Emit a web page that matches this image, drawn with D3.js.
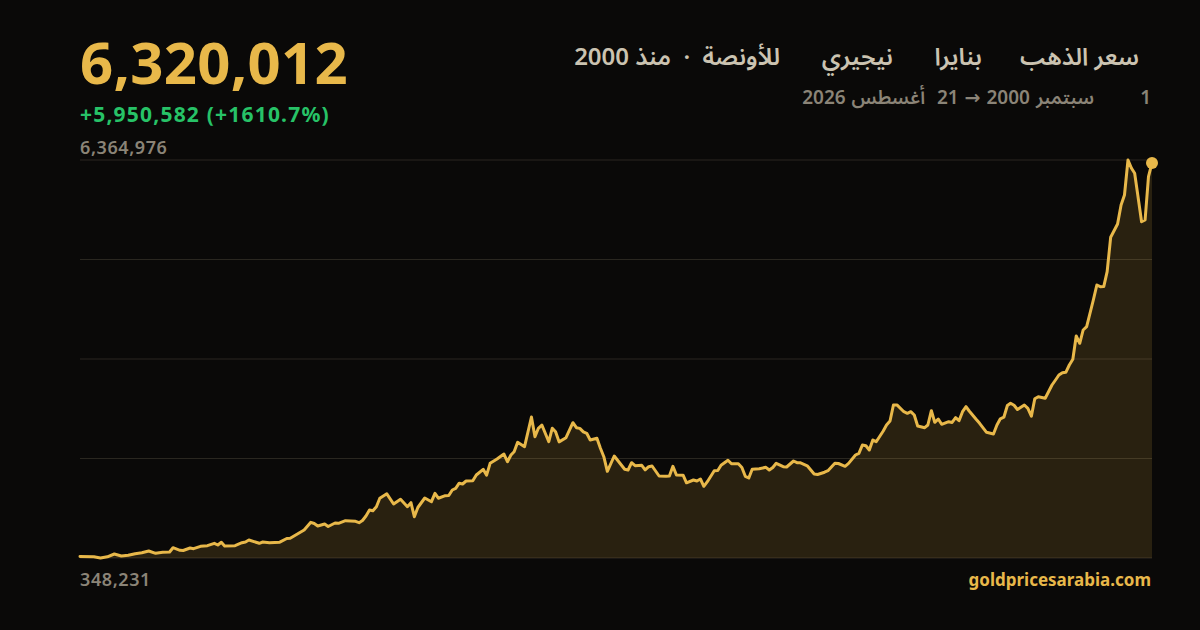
<!DOCTYPE html>
<html lang="ar">
<head>
<meta charset="utf-8">
<script src="https://cdn.jsdelivr.net/npm/d3@7"></script>
<style>
  html, body { margin: 0; padding: 0; background: #0a0908; }
  svg { display: block; }
  text { white-space: pre; }
  .latin { font-family: "Noto Sans", "Inter", sans-serif; }
  .ar { font-family: "Noto Sans Arabic", "Noto Sans", "DejaVu Sans", sans-serif; }
</style>
</head>
<body>
<svg id="chart" width="1200" height="630"></svg>
<script>
// ---- DATA ----
const titleParts = ["سعر الذهب", "بنايرا", "نيجيري", "للأونصة  ·  منذ 2000"];
const subtitleDay = "1";
const subtitleRange = "سبتمبر 2000 → 21  أغسطس 2026";
const sourceLabel = "goldpricesarabia.com";

const dates = [
  "2000-09","2001-01","2001-03","2001-05","2001-07","2001-09","2001-11","2002-01","2002-03","2002-05",
  "2002-07","2002-09","2002-11","2002-12","2003-02","2003-03","2003-05","2003-06","2003-08","2003-10",
  "2003-12","2004-01","2004-02","2004-03","2004-06","2004-08","2004-09","2004-10","2005-01","2005-02",
  "2005-04","2005-07","2005-09","2005-10","2006-02","2006-04","2006-05","2006-06","2006-08","2006-09",
  "2006-11","2006-12","2007-02","2007-05","2007-06","2007-07","2007-08","2007-09","2007-10","2007-11",
  "2007-12","2008-02","2008-04","2008-06","2008-08","2008-09","2008-10","2008-11","2009-01","2009-03",
  "2009-04","2009-05","2009-07","2009-08","2009-09","2009-10","2009-11","2009-12","2010-01","2010-03",
  "2010-04","2010-06","2010-07","2010-08","2010-10","2010-12","2011-01","2011-02","2011-03","2011-04",
  "2011-06","2011-08","2011-09","2011-10","2011-11","2012-01","2012-02","2012-03","2012-04","2012-06",
  "2012-08","2012-09","2012-10","2012-11","2012-12","2013-01","2013-03","2013-04","2013-05","2013-06",
  "2013-08","2013-11","2013-12","2014-01","2014-02","2014-04","2014-05","2014-06","2014-07","2014-09",
  "2014-11","2014-12","2015-01","2015-02","2015-04","2015-05","2015-07","2015-08","2015-09","2015-10",
  "2015-11","2016-01","2016-02","2016-03","2016-05","2016-06","2016-08","2016-09","2016-10","2016-11",
  "2016-12","2017-02","2017-04","2017-05","2017-06","2017-07","2017-09","2017-10","2017-12","2018-01",
  "2018-02","2018-04","2018-06","2018-07","2018-09","2018-10","2018-12","2019-01","2019-03","2019-04",
  "2019-06","2019-07","2019-08","2019-09","2019-10","2019-11","2019-12","2020-02","2020-03","2020-04",
  "2020-05","2020-06","2020-08","2020-09","2020-10","2020-11","2020-12","2021-02","2021-03","2021-04",
  "2021-05","2021-06","2021-07","2021-09","2021-10","2021-11","2021-12","2022-01","2022-02","2022-03",
  "2022-05","2022-06","2022-08","2022-10","2022-11","2022-12","2023-01","2023-02","2023-03","2023-04",
  "2023-05","2023-07","2023-08","2023-09","2023-10","2023-11","2024-01","2024-03","2024-04","2024-05",
  "2024-06","2024-07","2024-08","2024-09","2024-10","2024-11","2024-12","2025-01","2025-03","2025-04",
  "2025-05","2025-06","2025-07","2025-08","2025-10","2025-11","2025-12","2026-01","2026-02","2026-03",
  "2026-05","2026-06","2026-07","2026-08"
];

const prices = [
  369430,367900,348231,366800,408700,378500,389000,413200,428300,454000,
  419300,434400,438900,503900,464600,462000,499400,488800,525100,534100,
  570400,544700,585500,529600,534100,579500,590100,620300,570400,590100,
  579500,587100,643000,646000,771500,887900,869800,832000,862200,824400,
  877300,872800,912100,903000,881800,915100,983100,1073800,1061800,1123700,
  1250700,1318700,1164500,1237100,1123700,1184200,972600,1111600,1255300,1199300,
  1326300,1252000,1290000,1292000,1376200,1401900,1479000,1466900,1512200,1515000,
  1603000,1689100,1601000,1779800,1844800,1920400,1804000,1905300,1955200,2097300,
  2030800,2479800,2182000,2308900,2358800,2106400,2310000,2257500,2104000,2166800,
  2393600,2318000,2308000,2255000,2233300,2132100,2157800,2006600,1879600,1658900,
  1890200,1690000,1678500,1788900,1743500,1749600,1680000,1728400,1739000,1587800,
  1584800,1588000,1734500,1603000,1599900,1485000,1527400,1512200,1542500,1432100,
  1501700,1666400,1671000,1751100,1826700,1773800,1772000,1716300,1583300,1557600,
  1690600,1698200,1719400,1678500,1716300,1779800,1728400,1723900,1814600,1788900,
  1787000,1742000,1618100,1610500,1645300,1668000,1779800,1776800,1734500,1778000,
  1905300,1931000,2056500,2045900,1980900,2132100,2106400,2268100,2358800,2419300,
  2661200,2663000,2559900,2535700,2560000,2510000,2343700,2318000,2358800,2575000,
  2399600,2449500,2369400,2408700,2398000,2469200,2423800,2559900,2635500,2570500,
  2445000,2384500,2248500,2222800,2358800,2452600,2476700,2653600,2686900,2656700,
  2593100,2661200,2611300,2491900,2754900,2786600,2762500,2963500,3039100,3114700,
  3149500,3155500,3265900,3352100,3704300,3594000,3795000,3844900,4248500,4475300,
  4449600,4452000,4676300,5196400,5397400,5684700,5835900,6364976,6239500,6163900,
  5432200,5457900,6112500,6320012
];

// ---- CHART ----
const parse = d3.timeParse("%Y-%m");
const series = dates.map((d, i) => ({ date: parse(d), value: prices[i] }));

const W = 1200, H = 630;
const plot = { left: 80, right: 1152, top: 160, bottom: 558 };
const gold = "#e8b84a";
const muted = "#8b8477";
const fmt = d3.format(",");

const svg = d3.select("#chart");
svg.append("rect").attr("width", W).attr("height", H).attr("fill", "#0a0908");

const x = d3.scaleTime()
  .domain(d3.extent(series, d => d.date))
  .range([plot.left, plot.right]);

const yMin = d3.min(prices), yMax = d3.max(prices);
const y = d3.scaleLinear().domain([yMin, yMax]).range([plot.bottom, plot.top]);

// grid lines (4 equal intervals of the value range)
const gridVals = d3.range(5).map(i => yMin + i * (yMax - yMin) / 4);
svg.append("g").selectAll("line").data(gridVals).join("line")
  .attr("x1", plot.left).attr("x2", plot.right)
  .attr("y1", d => y(d)).attr("y2", d => y(d))
  .attr("stroke", "#2a2720").attr("stroke-width", 1);

// area + line
const area = d3.area().x(d => x(d.date)).y0(y(yMin)).y1(d => y(d.value));
svg.append("path").datum(series).attr("d", area)
  .attr("fill", gold).attr("fill-opacity", 0.14);

const line = d3.line().x(d => x(d.date)).y(d => y(d.value));
svg.append("path").datum(series).attr("d", line)
  .attr("fill", "none").attr("stroke", gold).attr("stroke-width", 3)
  .attr("stroke-linejoin", "round").attr("stroke-linecap", "round");

const last = series[series.length - 1];
svg.append("circle").attr("cx", x(last.date)).attr("cy", y(last.value))
  .attr("r", 6).attr("fill", gold);

// headline
const first = series[0];
const change = last.value - first.value;
const pct = change / first.value * 100;

svg.append("text").attr("class", "latin")
  .attr("x", 80).attr("y", 84)
  .attr("font-size", 58).attr("font-weight", 700).attr("fill", gold)
  .attr("letter-spacing", 0.3)
  .text(fmt(last.value));

svg.append("text").attr("class", "latin")
  .attr("x", 80).attr("y", 122)
  .attr("font-size", 21).attr("font-weight", 700).attr("fill", "#27c267")
  .attr("letter-spacing", 1.2)
  .text((change >= 0 ? "+" : "") + fmt(change) + " (" + (change >= 0 ? "+" : "") + pct.toFixed(1) + "%)");

// axis extreme labels
svg.append("text").attr("class", "latin")
  .attr("x", 80).attr("y", 154)
  .attr("font-size", 18).attr("font-weight", 600).attr("fill", muted)
  .attr("letter-spacing", 0.6)
  .text(fmt(yMax));

svg.append("text").attr("class", "latin")
  .attr("x", 80).attr("y", 586)
  .attr("font-size", 18).attr("font-weight", 600).attr("fill", muted)
  .attr("letter-spacing", 0.6)
  .text(fmt(yMin));

svg.append("text").attr("class", "latin")
  .attr("x", 1151).attr("y", 586).attr("text-anchor", "end")
  .attr("font-size", 17).attr("font-weight", 700).attr("fill", gold)
  .text(sourceLabel);

// title (RTL pieces)
const titleRight = [1139, 982, 893, 780];
titleParts.forEach((t, i) => {
  svg.append("text").attr("class", "ar")
    .attr("x", titleRight[i]).attr("y", 65)
    .attr("direction", "rtl").attr("text-anchor", "start")
    .attr("font-size", 24).attr("font-weight", 600).attr("fill", "#cbc3b1")
    .text(t);
});

svg.append("text").attr("class", "ar")
  .attr("x", 1151).attr("y", 104)
  .attr("direction", "rtl").attr("text-anchor", "start")
  .attr("font-size", 19).attr("font-weight", 600).attr("fill", muted)
  .text(subtitleDay);
svg.append("text").attr("class", "ar")
  .attr("x", 1094).attr("y", 104)
  .attr("direction", "rtl").attr("text-anchor", "start")
  .attr("font-size", 19).attr("font-weight", 600).attr("fill", muted)
  .attr("word-spacing", 1)
  .text(subtitleRange);
</script>
</body>
</html>
